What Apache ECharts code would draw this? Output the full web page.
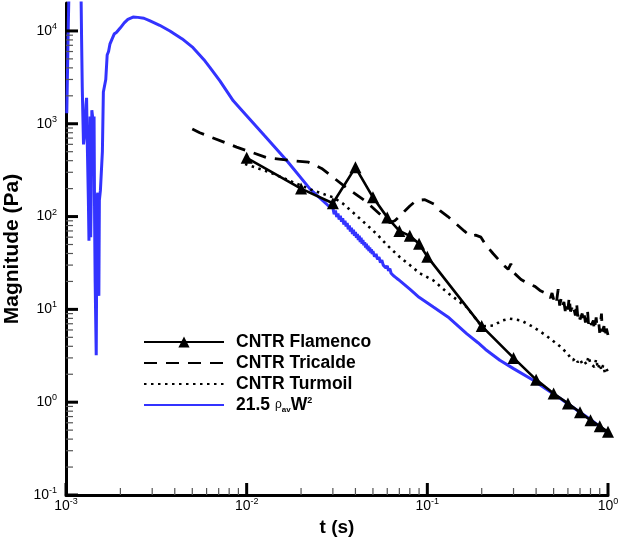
<!DOCTYPE html>
<html><head><meta charset="utf-8">
<script src="https://cdn.jsdelivr.net/npm/echarts@6/dist/echarts.min.js"></script>
<style>html,body{margin:0;padding:0;background:#fff}#c{width:619px;height:546px}</style>
</head><body><div id="c"></div><script>
// ---- axis ranges & tick values ----
const X_MIN = 0.001, X_MAX = 1, Y_MIN = 0.1, Y_MAX = 20000;
const xMajorTicks = [0.001, 0.01, 0.1, 1];
const xMinorTicks = [0.002,0.003,0.004,0.005,0.006,0.007,0.008,0.009,
                     0.02,0.03,0.04,0.05,0.06,0.07,0.08,0.09,
                     0.2,0.3,0.4,0.5,0.6,0.7,0.8,0.9];
const yMajorTicks = [0.1, 1, 10, 100, 1000, 10000];
const yMinorTicks = [0.2,0.3,0.4,0.5,0.6,0.7,0.8,0.9,
                     2,3,4,5,6,7,8,9,
                     20,30,40,50,60,70,80,90,
                     200,300,400,500,600,700,800,900,
                     2000,3000,4000,5000,6000,7000,8000,9000];

// ---- series names ----
const NAME_FLAMENCO = 'CNTR Flamenco';
const NAME_TRICALDE = 'CNTR Tricalde';
const NAME_TURMOIL = 'CNTR Turmoil';
const NAME_PRESSURE = '21.5 ρavW2';

// ---- CNTR Flamenco ----
const flamencoT = [0.01,0.02,0.03,0.04,0.05,0.06,0.07,0.08,0.09,0.1,0.2,0.3,0.4,0.5,0.6,0.7,0.8,0.9,1.0];
const flamencoV = [430,200,139,339,161,98,70,62,51,37,6.6,3.0,1.75,1.24,0.97,0.78,0.64,0.55,0.48];

// ---- CNTR Tricalde ----
const tricaldeT = [0.005,0.0055,0.0088,0.013,0.018,0.022,0.026,0.029,0.035,0.045,0.055,0.062,0.066,0.07,0.075,0.08,0.087,0.097,0.11,0.1175,0.13,0.142,0.16,0.174,0.185,0.198,0.21,0.231,0.26,0.28,0.29,0.3,0.33,0.36,0.394,0.42,0.453,
  0.47,0.48,0.49,0.50,0.51,0.52,0.53,0.54,0.55,0.56,0.57,0.58,0.59,0.60,0.61,0.62,0.63,0.64,0.65,0.66,0.67,0.68,0.69,0.70,0.72,0.73,0.74,0.75,0.77,0.78,0.80,0.81,0.83,0.84,0.86,0.87,0.89,0.90,0.92,0.93,0.95,0.96,0.98,1.0];
const tricaldeV = [880,800,560,430,400,385,330,280,210,149,105,86,90,100,115,130,149,152,135,116,100,86,70,61,63,60,50,40,31,27,31,25,21,19,17.7,16,14.9,
  14.5,13.2,15.0,12.8,14.2,12.5,16.5,11.0,13.0,10.8,12.0,9.6,11.5,10.0,13.5,9.5,10.4,8.8,9.8,8.6,11.8,8.4,9.5,7.8,9.0,7.4,8.6,7.2,9.8,7.0,8.0,6.8,7.6,6.0,8.2,6.4,7.0,5.6,9.0,5.8,6.6,5.0,6.2,5.3];

// ---- CNTR Turmoil ----
const turmoilT = [0.0098,0.01346,0.018,0.0233,0.0301,0.0341,0.04,0.046,0.0524,0.06,0.0705,0.08,0.091,0.108,0.13,0.165,0.1998,0.232,0.26,0.286,0.33,0.386,0.45,0.519,0.55,0.6,0.62,0.64,0.66,0.68,0.7,0.72,0.74,0.76,0.78,0.8,0.82,0.84,0.86,0.88,0.9,0.92,0.94,0.96,0.98,1.0];
const turmoilV = [369,299,235,191,161,138,105,82,65,49,36.5,30,24.4,20.5,15,10.6,6.56,6.7,7.6,7.94,7.6,6.46,5.3,4.28,3.9,3.3,3.0,2.83,3.0,2.7,2.9,2.6,2.75,2.55,3.1,2.6,2.7,2.4,2.9,2.3,2.6,2.2,2.5,2.1,2.3,2.1];

// ---- 21.5 rho_av W^2 ----
const pressureT = [0.00101,0.00102,0.00103,0.00104,0.00115,0.00121,0.00122,0.00123,0.00124,0.00125,0.00127,0.00129,0.00130,0.00131,0.00133,0.00134,0.00135,0.00136,0.00137,0.00138,0.00139,0.00141,0.00142,0.00143,0.00144,0.00145,0.00147,0.00148,0.00149,0.00150,0.00151,0.00152,0.00153,0.00155,0.00157,0.00159,0.00161,0.00163,0.00166,0.00169,0.00172,0.00175,0.00180,0.00185,0.00190,0.00200,0.00210,0.00220,0.00235,0.00250,0.00270,0.00292,0.0033,0.00376,0.0044,0.00505,0.0058,0.00627,0.00711,0.00843,0.01,0.0125,0.0167,0.0224,0.0289,
  0.0300,0.0305,0.0310,0.0315,0.0320,0.0325,0.0330,0.0335,0.0340,0.0345,0.0350,0.0355,0.0360,0.0365,0.0370,0.0375,0.0380,0.0385,0.0390,0.0395,
  0.0400,0.0405,0.0410,0.0415,0.0420,0.0425,0.0430,0.0435,0.0440,0.0445,0.0450,0.0455,0.0460,0.0465,0.0470,0.0475,0.0480,0.0485,0.0490,0.0495,
  0.050,0.051,0.052,0.053,0.054,0.055,0.056,0.057,0.058,0.059,0.060,0.061,0.062,0.063,0.064,0.065,0.066,0.067,0.068,0.069,0.070,
  0.080,0.090,0.108,0.13,0.165,0.19,0.21,0.252,0.3,0.386,0.45,0.542,0.65,0.8,1.0];
const pressureV = [1300,4000,12000,30000,40000,30000,8000,2500,1200,600,800,1600,1900,700,150,55,400,1200,60,200,1400,1100,300,1200,90,20,3.2,40,170,180,18,14,150,190,195,500,2200,2100,3000,5500,6000,7200,8200,9300,9600,10800,12200,13300,14100,14000,13700,12800,11500,10000,8200,6600,4900,4030,2900,1766,1220,750,400,199,126,
  124,106,116,99,108,93,102,88,96,82,90,78,85,73,80,69,76,65,72,62,
  68,59,65,56,62,53,59,51,56,49,53,46.5,51,44.5,48.5,42.5,46.5,41,44.5,39.5,
  42.5,37,39.5,34.5,36.5,32,34,30,31.5,28,29.5,26,27.5,24.5,25.5,23,24,22,22.5,21,21,
  16.5,13.5,10.6,8.3,5.48,4.4,3.7,2.83,2.3,1.72,1.4,1.1,0.86,0.65,0.465];

const zip = (a, b) => a.map((t, i) => [t, b[i]]);
const FONT = 'Liberation Sans';

function tickSeries(values, dir, len, width, color) {
  return {
    type: 'custom', silent: true, clip: false, z: 6,
    data: values.map(v => dir === 'y' ? [X_MIN, v] : [v, Y_MIN]),
    encode: { x: 0, y: 1 },
    renderItem: (params, api) => {
      const p = api.coord([api.value(0), api.value(1)]);
      const shape = dir === 'y'
        ? { x1: p[0], y1: p[1], x2: p[0] + len, y2: p[1] }
        : { x1: p[0], y1: p[1], x2: p[0], y2: p[1] - len };
      return { type: 'line', shape: shape, style: { stroke: color, lineWidth: width } };
    }
  };
}

const expLabel = v => '{b|10}{s|' + Math.round(Math.log10(v)) + '}';
const labelRich = {
  b: { fontSize: 14, fontFamily: FONT, color: '#000', lineHeight: 18 },
  s: { fontSize: 9, fontFamily: FONT, color: '#000', lineHeight: 10, verticalAlign: 'top' }
};
const noSymbol = { opacity: 0 };

const chart = echarts.init(document.getElementById('c'), null, { renderer: 'canvas' });
chart.setOption({
  animation: false,
  backgroundColor: '#fff',
  grid: { left: 66, right: 11, top: 3, bottom: 51, containLabel: false, outerBoundsMode: 'none' },
  legend: {
    orient: 'vertical', left: 143, top: 333, padding: 0,
    itemWidth: 80, itemHeight: 14, itemGap: 3,
    data: [
      { name: NAME_FLAMENCO },
      { name: NAME_TRICALDE, itemStyle: noSymbol },
      { name: NAME_TURMOIL, itemStyle: noSymbol },
      { name: NAME_PRESSURE, itemStyle: noSymbol }
    ],
    selectedMode: false,
    formatter: name => name === NAME_PRESSURE
      ? '{n|21.5 }{r|ρ}{sub|av}{n|W}{sup|2}'
      : '{n|' + name + '}',
    textStyle: {
      padding: [0, 0, 0, 7],
      rich: {
        n: { fontSize: 17.5, fontWeight: 'bold', fontFamily: FONT, color: '#000', lineHeight: 17 },
        r: { fontSize: 12, fontFamily: FONT, color: '#000', lineHeight: 17 },
        sub: { fontSize: 8, fontWeight: 'bold', fontFamily: FONT, color: '#000', lineHeight: 8, verticalAlign: 'bottom' },
        sup: { fontSize: 9, fontWeight: 'bold', fontFamily: FONT, color: '#000', lineHeight: 9, verticalAlign: 'top' }
      }
    }
  },
  xAxis: {
    type: 'log', logBase: 10, min: X_MIN, max: X_MAX, interval: 1,
    name: 't (s)', nameLocation: 'middle', nameGap: 22,
    nameTextStyle: { fontSize: 19, fontWeight: 'bold', fontFamily: FONT, color: '#000' },
    axisLine: { show: true, lineStyle: { color: '#000', width: 3 } },
    axisTick: { show: false }, minorTick: { show: false },
    splitLine: { show: false },
    axisLabel: { show: true, margin: 2, formatter: expLabel, rich: labelRich, showMinLabel: true, showMaxLabel: true }
  },
  yAxis: {
    type: 'log', logBase: 10, min: Y_MIN, max: Y_MAX, interval: 1,
    name: 'Magnitude (Pa)', nameLocation: 'middle', nameGap: 31,
    nameTextStyle: { fontSize: 21, fontWeight: 'bold', fontFamily: FONT, color: '#000' },
    axisLine: { show: true, lineStyle: { color: '#000', width: 3 } },
    axisTick: { show: false }, minorTick: { show: false },
    splitLine: { show: false },
    axisLabel: { show: true, margin: 9, formatter: expLabel, rich: labelRich, showMinLabel: true, showMaxLabel: false }
  },
  series: [
    {
      name: NAME_PRESSURE, type: 'line', data: zip(pressureT, pressureV),
      symbol: 'none', z: 2, clip: true,
      lineStyle: { color: '#3333ff', width: 3 }, itemStyle: { color: '#3333ff' }
    },
    {
      name: NAME_TRICALDE, type: 'line', data: zip(tricaldeT, tricaldeV),
      symbol: 'none', z: 3,
      lineStyle: { color: '#000', width: 2.8, type: [13, 9] }, itemStyle: { color: '#000' }
    },
    {
      name: NAME_TURMOIL, type: 'line', data: zip(turmoilT, turmoilV),
      symbol: 'none', z: 3,
      lineStyle: { color: '#000', width: 2.6, type: [2.5, 4.5] }, itemStyle: { color: '#000' }
    },
    {
      name: NAME_FLAMENCO, type: 'line', data: zip(flamencoT, flamencoV),
      symbol: 'triangle', symbolSize: 12, showSymbol: true, z: 4,
      lineStyle: { color: '#000', width: 2.6 }, itemStyle: { color: '#000' }
    },
    tickSeries(yMajorTicks, 'y', 12, 3, '#000'),
    tickSeries(yMinorTicks, 'y', 7, 1.2, '#555'),
    tickSeries(xMajorTicks, 'x', 12, 3, '#000'),
    tickSeries(xMinorTicks, 'x', 7, 1.2, '#555')
  ]
});
</script></body></html>
